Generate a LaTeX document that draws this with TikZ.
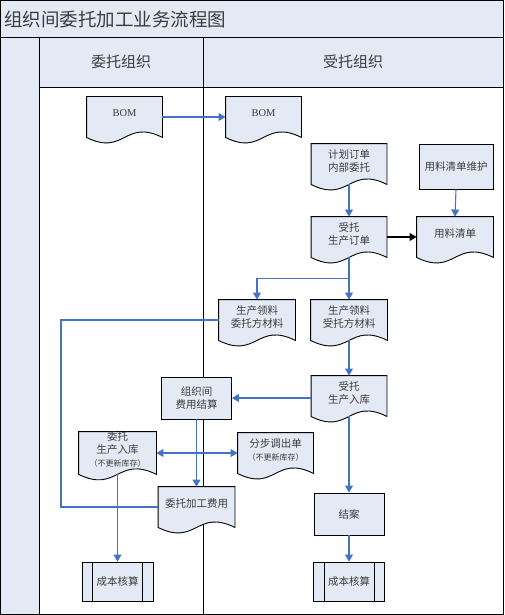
\documentclass[tikz,border=0pt]{standalone}
\usepackage{fontspec}
\setmainfont{Liberation Serif}
\newfontfamily\cjk{Noto Sans CJK SC}
\usetikzlibrary{arrows.meta,calc,backgrounds}

\definecolor{lanefill}{RGB}{227,234,246}
\definecolor{flowblue}{RGB}{68,114,196}
\definecolor{inktext}{RGB}{60,60,60}

\newcommand\smalltext[1]{{\fontsize{8}{10}\selectfont #1}}

\tikzset{
  lane/.style={draw=black, line width=0.9pt},
  box/.style={draw=black, fill=lanefill, line width=0.9pt, minimum width=70pt, minimum height=42pt,
    inner sep=1pt, align=center, text=inktext, font=\cjk\fontsize{10.5}{13}\selectfont},
  doc/.style={box, draw=none, fill=none, inner sep=0pt, minimum width=75pt, minimum height=40pt,
    execute at end node={\rule[-7pt]{0pt}{7pt}}},
  docshape/.style={draw=black, fill=lanefill, line width=0.9pt},
  proc/.style={box, minimum width=71pt, minimum height=39pt},
  flow/.style={draw=flowblue, line width=1.1pt, -{Triangle[length=7pt,width=8pt]}},
  dflow/.style={draw=flowblue, line width=1.1pt, {Triangle[length=7pt,width=8pt]}-{Triangle[length=7pt,width=8pt]}},
  kflow/.style={draw=black, line width=1.1pt, -{Triangle[length=7pt,width=8pt]}},
  link/.style={draw=flowblue, line width=1.1pt}
}

\begin{document}
\begin{tikzpicture}[x=1pt,y=-1pt]
\useasboundingbox (0,0) rectangle (504,615);

% swimlanes
\begin{scope}[on background layer]
\fill[lanefill] (0,0) rectangle (504,87);
\fill[lanefill] (0,87) rectangle (39,615);
\draw[lane] (0.5,0.5) rectangle (503.5,614.5);
\draw[lane] (0.5,37) -- (503.5,37);
\draw[lane] (39,37) -- (39,614.5);
\draw[lane] (39,87) -- (503.5,87);
\draw[lane] (203,37) -- (203,614.5);
\end{scope}

\node[anchor=west, inner sep=0pt, text=inktext, font=\cjk\fontsize{18.5}{18.5}\selectfont] (title) at (4,19) {组织间委托加工业务流程图};
\node[text=inktext, font=\cjk\fontsize{15}{15}\selectfont] (laneA) at (121,62) {委托组织};
\node[text=inktext, font=\cjk\fontsize{15}{15}\selectfont] (laneB) at (353,62) {受托组织};

% steps
\node[doc] (bomA) at (124.5,117) {\rmfamily BOM};
\node[doc] (bomB) at (263.5,117) {\rmfamily BOM};
\node[doc] (planOrd) at (349,164) {计划订单\\内部委托};
\node[box, minimum width=74pt, minimum height=45pt] (bomMaint) at (456,166.5) {用料清单维护};
\node[doc] (ordB) at (349,237) {受托\\生产订单};
\node[doc, minimum width=76pt] (bomList) at (455,237) {用料清单};
\node[doc, minimum width=76pt] (pickA) at (257,320) {生产领料\\委托方材料};
\node[doc, minimum width=76pt] (pickB) at (349,320) {生产领料\\受托方材料};
\node[doc] (recvB) at (349,396) {受托\\生产入库};
\node[box] (settle) at (196.5,398) {组织间\\费用结算};
\node[doc, minimum width=77pt] (recvA) at (117.5,453) {委托\\生产入库\\\smalltext{（不更新库存）}};
\node[doc] (transfer) at (275.5,453) {分步调出单\\\smalltext{（不更新库存）}};
\node[doc, minimum width=76pt] (feeA) at (196.5,507) {委托加工费用};
\node[box] (close) at (349,514) {结案};
\node[proc] (costA) at (117.5,581.5) {成本核算};
\node[proc] (costB) at (349,581.5) {成本核算};

\begin{scope}[on background layer]
\foreach \n in {bomA,bomB,planOrd,ordB,bomList,pickA,pickB,recvB,recvA,transfer,feeA}
  \draw[docshape] (\n.south west) -- (\n.north west) -- (\n.north east) -- (\n.south east)
    .. controls ($(\n.south)+(0,-19)$) and ($(\n.south)+(0,19)$) .. (\n.south west) -- cycle;
\end{scope}
\foreach \n in {costA,costB} {
  \draw[lane] ([xshift=11pt]\n.north west) -- ([xshift=11pt]\n.south west);
  \draw[lane] ([xshift=-11pt]\n.north east) -- ([xshift=-11pt]\n.south east);
}

% connectors
\coordinate (fork) at ($(ordB.south)!0.5!(pickB.north)$);
\coordinate (loopL) at (61,420);
\draw[flow] (bomA.east) -- (bomB.west);
\draw[flow] (planOrd.south) -- (ordB.north);
\draw[flow] (bomMaint.south) -- (bomList.north);
\draw[kflow] (ordB.east) -- (bomList.west);
\draw[flow] (ordB.south) -- (pickB.north);
\draw[flow] (fork) -| (pickA.north);
\draw[link] (pickA.west) -| (loopL) |- (feeA.west);
\draw[flow] (pickB.south) -- (recvB.north);
\draw[flow] (recvB.west |- settle.east) -- (settle.east);
\draw[flow] (settle.south) -- (feeA.north);
\draw[dflow] (recvA.east) -- (transfer.west);
\draw[flow] (recvA.south) -- (costA.north);
\draw[flow] (recvB.south) -- (close.north);
\draw[flow] (close.south) -- (costB.north);
\end{tikzpicture}
\end{document}
